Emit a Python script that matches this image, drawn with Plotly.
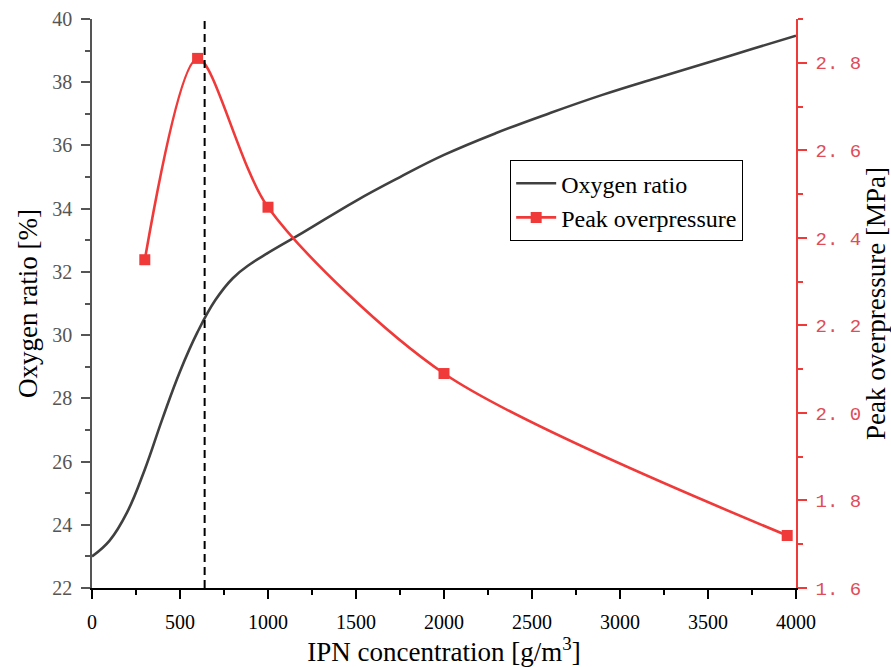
import plotly.graph_objects as go

# Oxygen ratio along IPN concentration (continuous curve)
oxy_x = [0, 100, 200, 300, 400, 500, 600, 700, 800, 900, 1000, 1200, 1500,
         1750, 2000, 2300, 2600, 2900, 3200, 3500, 3750, 4000]
oxy_y = [23.0, 23.5, 24.4, 25.75, 27.35, 28.85, 30.1, 31.1, 31.8, 32.25, 32.6,
         33.25, 34.25, 35.0, 35.7, 36.4, 37.02, 37.6, 38.12, 38.62, 39.05, 39.47]

# Peak overpressure at the tested concentrations
pk_x = [300, 600, 1000, 2000, 3950]
pk_y = [2.35, 2.81, 2.47, 2.09, 1.72]

# Concentration of the marked transition
mark_x = 640

left_ticks = [22, 24, 26, 28, 30, 32, 34, 36, 38, 40]
right_tickvals = [1.6, 1.8, 2.0, 2.2, 2.4, 2.6, 2.8]
right_ticktext = ["1. 6", "1. 8", "2. 0", "2. 2", "2. 4", "2. 6", "2. 8"]
x_ticks = [0, 500, 1000, 1500, 2000, 2500, 3000, 3500, 4000]

SERIF = "Liberation Serif"
RED = "#f03a3a"
GRAY = "#404040"

fig = go.Figure()

fig.add_trace(go.Scatter(
    x=oxy_x, y=oxy_y, mode="lines", name="Oxygen ratio",
    line=dict(color=GRAY, width=2.6, shape="spline", smoothing=1.2),
))
fig.add_trace(go.Scatter(
    x=pk_x, y=pk_y, mode="lines+markers", name="Peak overpressure",
    yaxis="y2",
    line=dict(color=RED, width=2.6, shape="spline", smoothing=0.8),
    marker=dict(symbol="square", size=11, color=RED),
))

# Vertical dashed marker line
fig.add_shape(type="line", xref="x", yref="paper", x0=mark_x, x1=mark_x,
              y0=0, y1=1, line=dict(color="black", width=2, dash="8px,5px"))

fig.update_layout(
    width=891, height=667,
    margin=dict(l=92, r=95, t=19, b=79),
    paper_bgcolor="white", plot_bgcolor="white",
    showlegend=True,
    legend=dict(
        x=0.594, y=0.752, xanchor="left", yanchor="top",
        bgcolor="white", bordercolor="black", borderwidth=1,
        font=dict(family=SERIF, size=24, color="black"),
        tracegroupgap=0, itemwidth=40,
    ),
    xaxis=dict(
        range=[0, 4000], tickvals=x_ticks, automargin=False,
        showline=True, linecolor="black", linewidth=1.5,
        ticks="outside", ticklen=9, tickwidth=1.5, tickcolor="black",
        minor=dict(dtick=250, ticks="outside", ticklen=5, tickwidth=1.5,
                   tickcolor="black", showgrid=False),
        showgrid=False, zeroline=False, ticklabelstandoff=6,
        tickfont=dict(family=SERIF, size=20, color="black"),
        title=dict(text="IPN concentration [g/m<sup>3</sup>]",
                   font=dict(family=SERIF, size=27, color="black"),
                   standoff=8),
    ),
    xaxis2=dict(
        range=[0, 4000], tickvals=x_ticks, overlaying="x", side="top",
        anchor="y", showline=True, linecolor="black", linewidth=1.5,
        ticks="inside", ticklen=9, tickwidth=1.5, tickcolor="black",
        minor=dict(dtick=250, ticks="inside", ticklen=5, tickwidth=1.5,
                   tickcolor="black", showgrid=False),
        showticklabels=False, showgrid=False, zeroline=False,
        automargin=False,
    ),
    yaxis=dict(
        range=[22, 40], tickvals=left_ticks, automargin=False,
        showline=True, linecolor="#555555", linewidth=1.5,
        ticks="outside", ticklen=9, tickwidth=1.5, tickcolor="#555555",
        minor=dict(dtick=1, ticks="outside", ticklen=5, tickwidth=1.5,
                   tickcolor="#555555", showgrid=False),
        showgrid=False, zeroline=False, ticklabelstandoff=5,
        tickfont=dict(family=SERIF, size=20, color="#555555"),
        title=dict(text="Oxygen ratio [%]",
                   font=dict(family=SERIF, size=27, color="black"),
                   standoff=7),
    ),
    yaxis2=dict(
        range=[1.6, 2.9], tickvals=right_tickvals, ticktext=right_ticktext,
        overlaying="y", side="right", anchor="x", automargin=False,
        showline=True, linecolor=RED, linewidth=1.5,
        ticks="outside", ticklen=9, tickwidth=1.5, tickcolor=RED,
        minor=dict(dtick=0.1, ticks="outside", ticklen=5, tickwidth=1.5,
                   tickcolor=RED, showgrid=False),
        showgrid=False, zeroline=False, ticklabelstandoff=5,
        tickfont=dict(family="Liberation Mono", size=19, color="#e04c58"),
        title=dict(text="Peak overpressure [MPa]",
                   font=dict(family=SERIF, size=27, color="black"),
                   standoff=0),
    ),
)

fig.write_html("out.html")
